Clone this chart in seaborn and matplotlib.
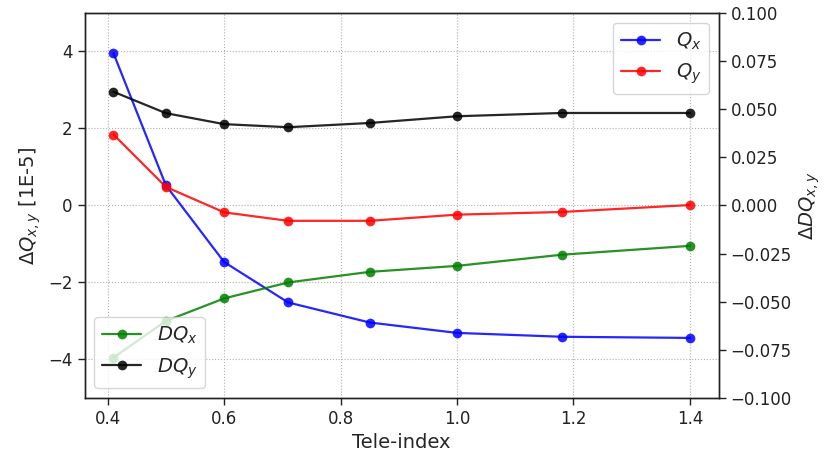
import matplotlib
matplotlib.use("Agg")
import matplotlib.pyplot as plt
import seaborn as sns
import pandas as pd

tele_index = [0.41, 0.50, 0.60, 0.71, 0.85, 1.00, 1.18, 1.40]
q_x = [3.95, 0.52, -1.47, -2.52, -3.04, -3.31, -3.41, -3.44]
q_y = [1.84, 0.48, -0.18, -0.40, -0.40, -0.24, -0.17, 0.01]
dq_x = [-0.079, -0.060, -0.0483, -0.040, -0.0345, -0.0314, -0.0256, -0.021]
dq_y = [0.059, 0.0479, 0.0422, 0.0406, 0.0428, 0.0463, 0.048, 0.048]

sns.set_style("ticks")
plt.rcParams['font.family'] = ['DejaVu Sans']
plt.rcParams['mathtext.fontset'] = 'dejavusans'

fig = plt.figure(figsize=(8.3, 4.58), dpi=100)
ax1 = fig.add_axes([0.102, 0.131, 0.764, 0.841])
ax2 = ax1.twinx()

df = pd.DataFrame({"x": tele_index, "qx": q_x, "qy": q_y, "dqx": dq_x, "dqy": dq_y})

kw = dict(marker='o', markersize=7, linewidth=1.6, markeredgewidth=0, alpha=0.85)
sns.lineplot(data=df, x="x", y="qx", ax=ax1, color='#0000ff', label='$Q_x$', legend=False, **kw)
sns.lineplot(data=df, x="x", y="qy", ax=ax1, color='#ff0000', label='$Q_y$', legend=False, **kw)
sns.lineplot(data=df, x="x", y="dqx", ax=ax2, color='green', label='$DQ_x$', legend=False, **kw)
sns.lineplot(data=df, x="x", y="dqy", ax=ax2, color='black', label='$DQ_y$', legend=False, **kw)

ax1.set_ylim(-5, 5)
ax2.set_ylim(-0.1, 0.1)
ax1.set_yticks([-4, -2, 0, 2, 4])
ax2.set_yticks([-0.1, -0.075, -0.05, -0.025, 0, 0.025, 0.05, 0.075, 0.1])
ax2.set_yticklabels(["\u22120.100", "\u22120.075", "\u22120.050", "\u22120.025", "0.000",
                     "0.025", "0.050", "0.075", "0.100"])
ax1.set_xticks([0.4, 0.6, 0.8, 1.0, 1.2, 1.4])

ax1.grid(True, linestyle=':', color='#b0b0b0', linewidth=0.8)
ax1.set_axisbelow(True)

for ax in (ax1, ax2):
    ax.tick_params(labelsize=12, direction='out', length=5, width=1, colors='#222222')
    for s in ax.spines.values():
        s.set_color('#222222')
        s.set_linewidth(1.0)

ax1.set_xlabel('Tele-index', fontsize=14)
ax1.set_ylabel(r'$\Delta Q_{x,y}$ [1E-5]', fontsize=14)
ax2.set_ylabel(r'$\Delta DQ_{x,y}$', fontsize=14)

h1 = ax1.get_lines()
h2 = ax2.get_lines()
leg1 = ax2.legend(handles=list(h1), labels=['$Q_x$', '$Q_y$'], loc='upper right',
                  fontsize=14, framealpha=0.8, handlelength=2.0)
ax2.add_artist(leg1)
ax2.legend(handles=list(h2), labels=['$DQ_x$', '$DQ_y$'], loc='lower left',
           fontsize=14, framealpha=0.8, handlelength=2.0)

fig.savefig("out.png", dpi=100)
